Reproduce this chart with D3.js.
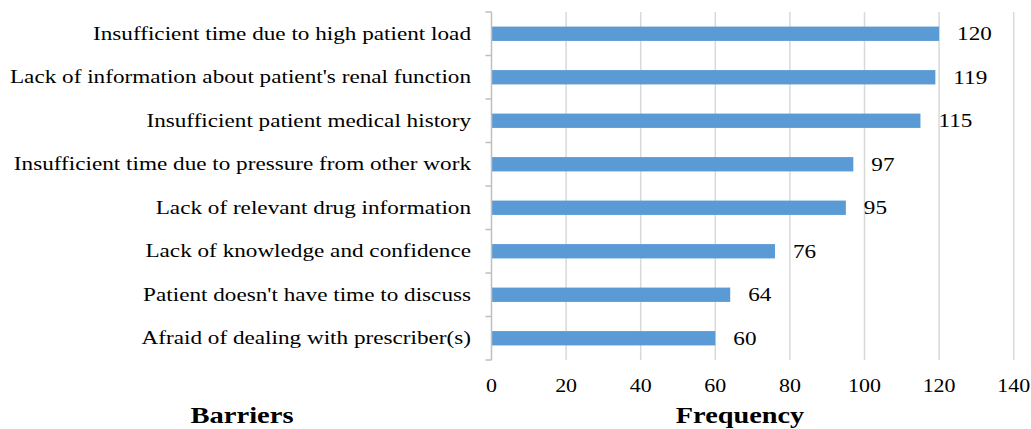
<!DOCTYPE html>
<html><head><meta charset="utf-8">
<script src="https://cdn.jsdelivr.net/npm/d3@7"></script>
<style>body{margin:0;background:#fff}svg{display:block}</style>
</head><body>
<svg id="c" width="1031" height="429"></svg>
<script>
const categories = [
  "Insufficient time due to high patient load",
  "Lack of information about patient's renal function",
  "Insufficient patient medical history",
  "Insufficient time due to pressure from other work",
  "Lack of relevant drug information",
  "Lack of knowledge and confidence",
  "Patient doesn't have time to discuss",
  "Afraid of dealing with prescriber(s)"
];
const values = [120, 119, 115, 97, 95, 76, 64, 60];
const xTicks = [0, 20, 40, 60, 80, 100, 120, 140];
const yTitle = "Barriers";
const xTitle = "Frequency";

const svg = d3.select("#c");
const font = "'Liberation Serif','Times New Roman',serif";
const SX = 1.22;
const pL = 491.5, pR = 1013.7, pT = 12, pB = 360;
const x = d3.scaleLinear().domain([0, 140]).range([pL, pR]);
const y = d3.scaleBand().domain(categories).range([pT, pB]).paddingInner(0.67).paddingOuter(0.335);

// gridlines
svg.append("g").selectAll("line").data(xTicks.slice(1)).join("line")
  .attr("x1", d => x(d)).attr("x2", d => x(d))
  .attr("y1", pT).attr("y2", pB)
  .attr("stroke", "#d9d9d9").attr("stroke-width", 1.5);

// x tick labels
svg.append("g").selectAll("text").data(xTicks).join("text")
  .attr("transform", d => `translate(${x(d)},392) scale(${SX},1)`)
  .attr("text-anchor", "middle")
  .attr("font-family", font).attr("font-size", 18).attr("fill", "#000")
  .text(d => d);

// bars
svg.append("g").selectAll("rect").data(values).join("rect")
  .attr("x", x(0)).attr("y", (d, i) => y(categories[i]))
  .attr("width", d => x(d) - x(0)).attr("height", y.bandwidth())
  .attr("fill", "#5b9bd5");

// value labels
svg.append("g").selectAll("text").data(values).join("text")
  .attr("transform", (d, i) => `translate(${x(d) + 18},${y(categories[i]) + y.bandwidth() / 2}) scale(${SX},1)`)
  .attr("dy", "0.35em")
  .attr("font-family", font).attr("font-size", 19).attr("fill", "#000")
  .text(d => d);

// y axis line and ticks
const step = (pB - pT) / categories.length;
svg.append("line").attr("x1", pL).attr("x2", pL).attr("y1", pT).attr("y2", pB)
  .attr("stroke", "#bfbfbf").attr("stroke-width", 1.5);
svg.append("g").selectAll("line").data(d3.range(categories.length + 1)).join("line")
  .attr("x1", pL - 6).attr("x2", pL)
  .attr("y1", d => pT + d * step).attr("y2", d => pT + d * step)
  .attr("stroke", "#bfbfbf").attr("stroke-width", 1.5);

// category labels
svg.append("g").selectAll("text").data(categories).join("text")
  .attr("transform", d => `translate(471,${y(d) + y.bandwidth() / 2}) scale(${SX},1)`)
  .attr("dy", "0.32em").attr("text-anchor", "end")
  .attr("font-family", font).attr("font-size", 19).attr("fill", "#000")
  .text(d => d);

// titles
svg.append("text").attr("transform", `translate(242,423) scale(1.19,1)`).attr("text-anchor", "middle")
  .attr("font-family", font).attr("font-size", 24).attr("font-weight", "bold").text(yTitle);
svg.append("text").attr("transform", `translate(740,423) scale(1.18,1)`).attr("text-anchor", "middle")
  .attr("font-family", font).attr("font-size", 24).attr("font-weight", "bold").text(xTitle);
</script>
</body></html>
